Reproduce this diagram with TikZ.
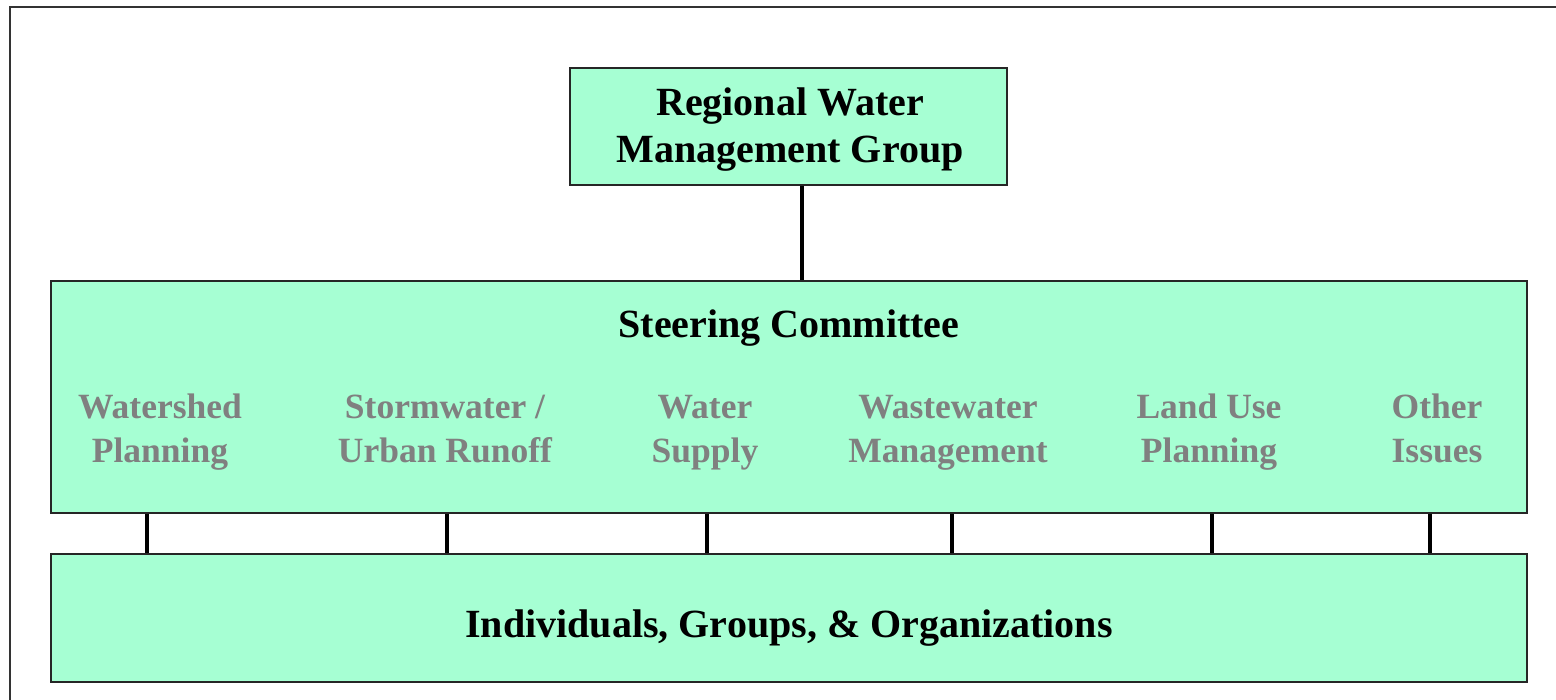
\documentclass[tikz,border=0pt]{standalone}
\usepackage{fontspec}
\setmainfont{Liberation Serif}
\definecolor{boxfill}{HTML}{A6FFD3}
\definecolor{subgray}{HTML}{808080}
\begin{document}
\begin{tikzpicture}[x=1pt,y=-1pt,
  box/.style={draw=black!85,line width=1.3pt,fill=boxfill,inner sep=0pt},
  main/.style={font=\fontsize{40}{48}\selectfont\bfseries,text=black,anchor=base,inner sep=0pt},
  sub/.style={font=\fontsize{35.5}{45}\selectfont\bfseries,text=subgray,anchor=base,inner sep=0pt},
  link/.style={line width=4.5pt,black}]
\useasboundingbox (0,0) rectangle (1556,699);
\draw[line width=2pt,black!80] (1560,7) -- (10,7) -- (10,703);
\node[box,minimum width=437pt,minimum height=117pt] (rwmg) at (788.5,126.5) {};
\node[main] (rwmg1) at (790,115) {Regional Water};
\node[main] (rwmg2) at (790,162) {Management Group};
\node[box,minimum width=1476pt,minimum height=232pt] (sc) at (789,397) {};
\node[main] (sct) at (789,337) {Steering Committee};
\node[box,minimum width=1476pt,minimum height=128pt] (ind) at (789,618) {};
\node[main] (indt) at (789,637) {Individuals, Groups, \& Organizations};
\node[sub] (sw1) at (445,418) {Stormwater /};
\node[sub] (sw2) at (445,462) {Urban Runoff};
\foreach \nm/\xx/\la/\lb in {ws/160/Watershed/Planning, wsup/705/Water/Supply, ww/948/Wastewater/Management, lu/1209/Land Use/Planning, oi/1437/Other/Issues}{
  \node[sub] (\nm1) at (\xx,418) {\la};
  \node[sub] (\nm2) at (\xx,462) {\lb};
}
\coordinate (t1) at (802,0);
\draw[link] (rwmg.south -| t1) -- (sc.north -| t1);
\foreach \xx in {147,447,707,952,1212,1430}{
  \coordinate (c) at (\xx,0);
  \draw[link] (sc.south -| c) -- (ind.north -| c);
}
\end{tikzpicture}
\end{document}
